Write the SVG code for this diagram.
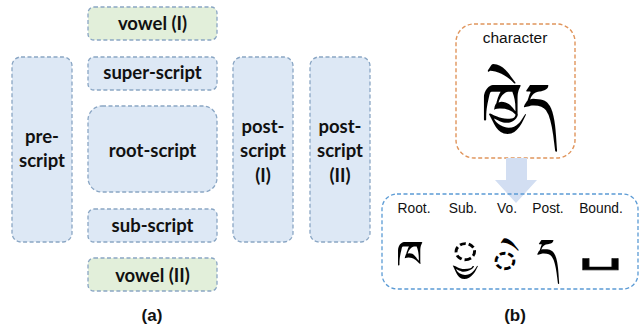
<svg xmlns="http://www.w3.org/2000/svg" width="641" height="326" viewBox="0 0 641 326">
<style>
.blk{fill:#dde8f5;stroke:#8aa6c4;stroke-width:1.3;stroke-dasharray:4 2.5}
.grn{fill:#e2efda;stroke:#8aa6c4;stroke-width:1.3;stroke-dasharray:4 2.5}
.lbl{font-family:Lato,"Liberation Sans",sans-serif;font-weight:bold;font-size:18.5px;fill:#111;text-anchor:middle}
.cap{font-family:"Liberation Sans",Arial,sans-serif;font-weight:bold;font-size:17px;fill:#111;text-anchor:middle}
.sm{font-family:"Liberation Sans",Arial,sans-serif;font-size:13.8px;fill:#111;text-anchor:middle}
.tib{font-family:"Noto Sans Tibetan","Jomolhari","Tibetan Machine Uni","DejaVu Sans",sans-serif;fill:#000;text-anchor:middle;font-size:50px}
</style>
<g id="vowel1"><rect class="grn" x="88" y="7" width="129" height="33" rx="6"/><text class="lbl" x="152.5" y="30">vowel (I)</text></g>
<g id="superscript"><rect class="blk" x="88" y="57" width="129" height="33" rx="6"/><text class="lbl" x="152.5" y="79">super-script</text></g>
<g id="rootscript"><rect class="blk" x="88" y="106" width="129" height="86" rx="14"/><text class="lbl" x="152.5" y="157">root-script</text></g>
<g id="subscript"><rect class="blk" x="88" y="209" width="129" height="33" rx="6"/><text class="lbl" x="152.5" y="232">sub-script</text></g>
<g id="vowel2"><rect class="grn" x="88" y="258" width="129" height="33" rx="6"/><text class="lbl" x="152.5" y="282">vowel (II)</text></g>
<g id="prescript"><rect class="blk" x="12" y="57" width="60" height="185" rx="9"/><text class="lbl" x="42" y="143">pre-</text><text class="lbl" x="42" y="167">script</text></g>
<g id="postscript1"><rect class="blk" x="233" y="57" width="60" height="185" rx="9"/><text class="lbl" x="263" y="133">post-</text><text class="lbl" x="263" y="157">script</text><text class="lbl" x="263" y="182">(I)</text></g>
<g id="postscript2"><rect class="blk" x="310" y="57" width="60" height="185" rx="9"/><text class="lbl" x="340" y="133">post-</text><text class="lbl" x="340" y="157">script</text><text class="lbl" x="340" y="182">(II)</text></g>
<text class="cap" x="152" y="321">(a)</text>

<g id="character"><rect x="456" y="24" width="119" height="134" rx="18" fill="#fff" stroke="#e0955c" stroke-width="1.4" stroke-dasharray="4 2.5"/><text class="sm" x="515" y="43" style="font-size:15.5px">character</text><text class="tib" x="519" y="141" style="font-size:76px">ཁྱེད</text></g>
<g id="connectors"><path d="M506 158H527V180H537L516 203L495 180H506Z" fill="#d2def2"/></g>
<g id="components"><rect x="382" y="194" width="256" height="95" rx="15" fill="none" stroke="#5b9bd5" stroke-width="1.3" stroke-dasharray="4 2.5"/>
<text class="sm" x="414" y="213">Root.</text><text class="sm" x="463" y="213">Sub.</text><text class="sm" x="507" y="213">Vo.</text><text class="sm" x="548" y="213">Post.</text><text class="sm" x="601" y="213">Bound.</text>
<text class="tib" x="410" y="279">ཁ</text>
<text class="tib" x="458" y="279">&#xA0;ྱ</text>
<text class="tib" x="505" y="287" style="font-size:48px">ེ</text>
<text class="tib" x="548" y="277">ད</text>
<text class="tib" transform="translate(601 262) scale(1.5 0.72)" x="0" y="0" style="font-family:'DejaVu Sans',sans-serif;font-size:48px;stroke:#000;stroke-width:0.8">␣</text></g>
<text class="cap" x="515" y="321">(b)</text>
</svg>
